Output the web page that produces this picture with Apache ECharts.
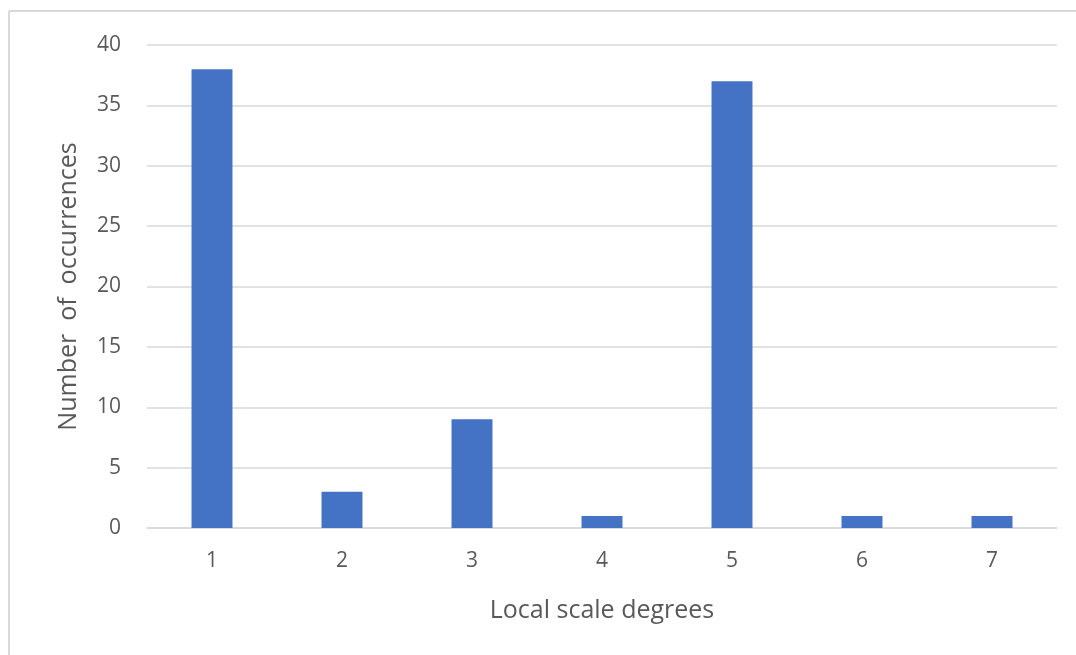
<!DOCTYPE html>
<html><head><meta charset="utf-8">
<script src="https://cdn.jsdelivr.net/npm/echarts@6/dist/echarts.min.js"></script>
<style>html,body{margin:0;padding:0;background:#fff}#c{width:1076px;height:655px}</style>
</head><body><div id="c"></div>
<script>
const categories = ['1','2','3','4','5','6','7'];
const occurrences = [38, 3, 9, 1, 37, 1, 1];
const yTicks = {min: 0, max: 40, interval: 5};
const xTitle = 'Local scale degrees';
const yTitle = 'Number  of  occurrences';

const chart = echarts.init(document.getElementById('c'));
const font = 'Open Sans';
chart.setOption({
  animation: false,
  graphic: [
    {type:'line', shape:{x1:9, y1:11, x2:1076, y2:11}, style:{stroke:'#d9d9d9', lineWidth:2}},
    {type:'line', shape:{x1:9, y1:11, x2:9, y2:655}, style:{stroke:'#d9d9d9', lineWidth:2}}
  ],
  grid: {left:147, right:19, top:45, bottom:127},
  xAxis: {
    type:'category', data: categories,
    axisLine:{lineStyle:{color:'#d9d9d9', width:1.5}},
    axisTick:{show:false},
    axisLabel:{color:'#595959', fontSize:21, fontFamily:font, margin:23},
    name: xTitle, nameLocation:'middle', nameGap:70,
    nameTextStyle:{color:'#595959', fontSize:25, fontFamily:font}
  },
  yAxis: {
    type:'value', min:yTicks.min, max:yTicks.max, interval:yTicks.interval,
    axisLine:{show:false}, axisTick:{show:false},
    splitLine:{lineStyle:{color:'#d9d9d9', width:1.5}},
    axisLabel:{color:'#595959', fontSize:21, fontFamily:font, margin:26},
    name: yTitle, nameLocation:'middle', nameGap:66,
    nameTextStyle:{color:'#595959', fontSize:25, fontFamily:font}
  },
  series: [{
    type:'bar', data: occurrences, barWidth:'31.5%',
    itemStyle:{color:'#4472C4'}
  }]
});
</script></body></html>
